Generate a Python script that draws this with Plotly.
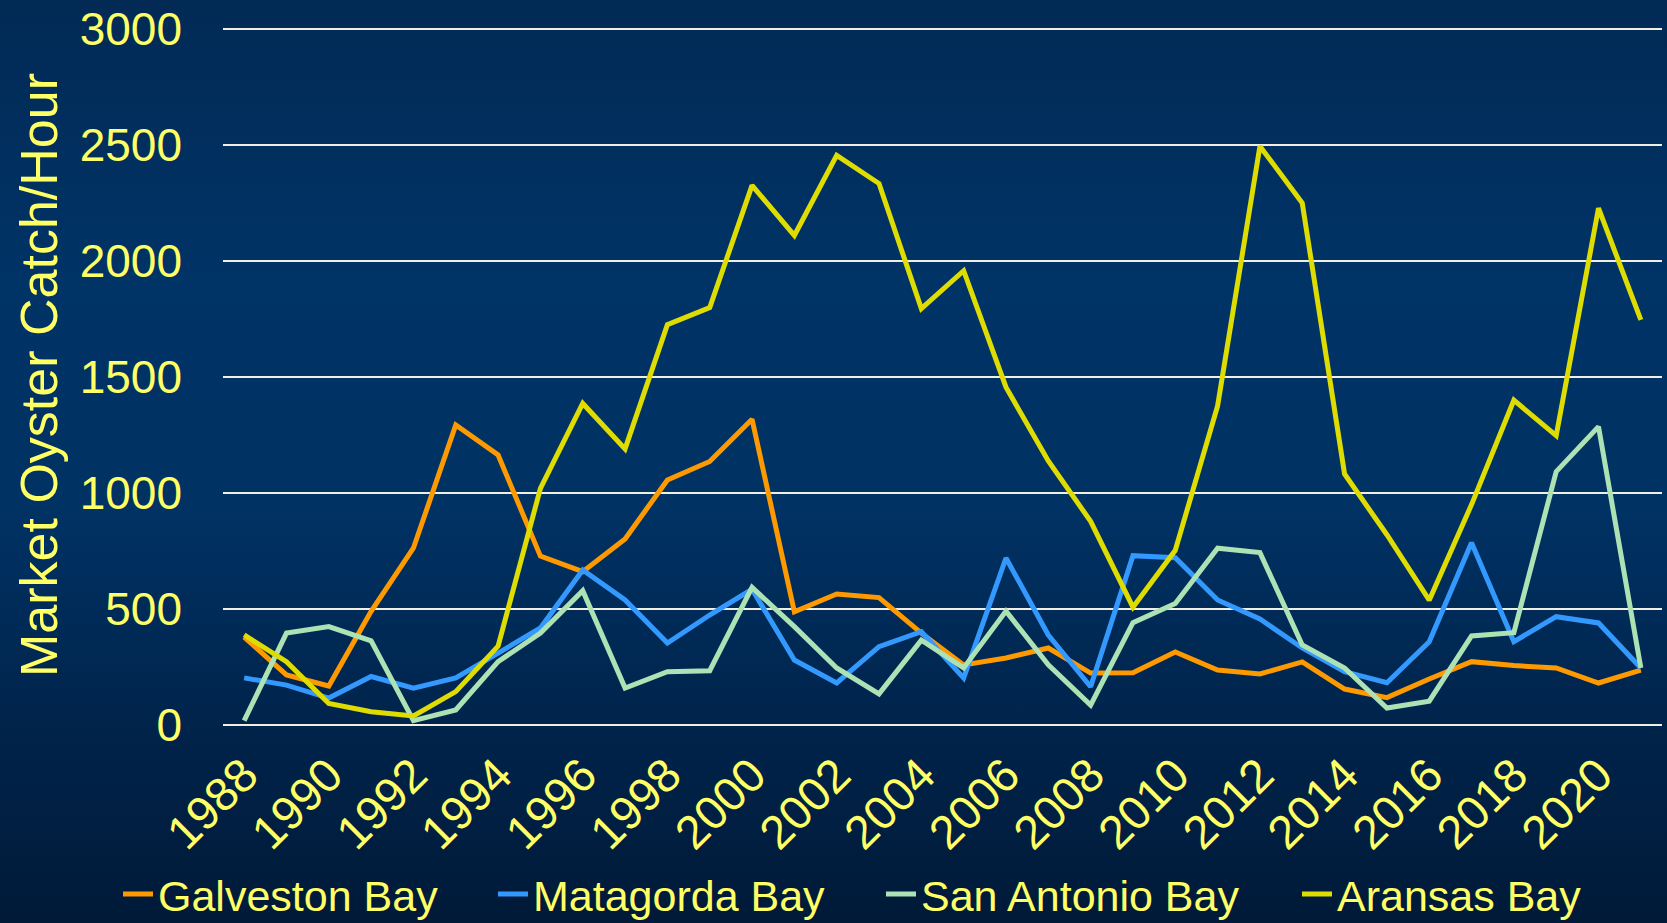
import base64
import plotly.graph_objects as go

years = list(range(1988, 2022))

galveston = [379, 216, 168, 490, 763, 1293, 1164, 728, 661, 802, 1056, 1136, 1318, 488, 565, 549,
             396, 259, 289, 332, 224, 225, 315, 237, 220, 272, 155, 118, 198, 273, 256, 246, 181, 237]
matagorda = [203, 172, 116, 209, 159, 203, 310, 418, 668, 539, 353, 474, 585, 280, 181, 338,
             402, 203, 720, 388, 165, 730, 721, 539, 457, 332, 230, 182, 359, 786, 359, 467, 440, 246]
san_antonio = [19, 396, 424, 363, 19, 65, 273, 396, 579, 159, 230, 234, 593, 424, 246, 134,
               366, 246, 491, 259, 86, 441, 524, 762, 743, 345, 246, 73, 103, 384, 398, 1092, 1286, 246]
aransas = [388, 273, 93, 57, 39, 144, 340, 1020, 1386, 1190, 1726, 1799, 2326, 2110, 2455, 2334,
           1795, 1958, 1456, 1138, 878, 508, 753, 1375, 2495, 2250, 1082, 820, 538, 950, 1400, 1247, 2228, 1746]

series_names = ["Galveston Bay", "Matagorda Bay", "San Antonio Bay", "Aransas Bay"]
series_values = [galveston, matagorda, san_antonio, aransas]
series_colors = ["#FF9900", "#3399FF", "#ADE2B4", "#DEDC00"]

tick_years = list(range(1988, 2021, 2))
tick_labels = [str(y) for y in tick_years]
y_ticks = [0, 500, 1000, 1500, 2000, 2500, 3000]

TEXT = "#FFFF66"
FONT = "Liberation Sans, Arial, sans-serif"

W, H = 1667, 923
ML, MR, MT, MB = 223, 5, 25, 198
PW, PH = W - ML - MR, H - MT - MB

svg = """<svg xmlns='http://www.w3.org/2000/svg' width='1667' height='923' preserveAspectRatio='none'>
<defs><linearGradient id='g' x1='0' y1='0' x2='0' y2='1'>
<stop offset='0' stop-color='#022a55'/>
<stop offset='0.3' stop-color='#003366'/>
<stop offset='0.55' stop-color='#003264'/>
<stop offset='0.8' stop-color='#00234a'/>
<stop offset='1' stop-color='#001a38'/>
</linearGradient></defs>
<rect width='1667' height='923' fill='url(#g)'/></svg>"""
bg_uri = "data:image/svg+xml;base64," + base64.b64encode(svg.encode()).decode()

legend_ids = ["legend", "legend2", "legend3", "legend4"]
legend_text_px = [160, 535, 923, 1339]

fig = go.Figure()
for name, vals, col, lid in zip(series_names, series_values, series_colors, legend_ids):
    fig.add_trace(go.Scatter(
        x=[str(y) for y in years], y=vals, name=name, mode="lines",
        line=dict(color=col, width=5), legend=lid,
    ))

legend_layout = {}
for lid, tx in zip(legend_ids, legend_text_px):
    legend_layout[lid] = dict(
        orientation="h", xref="container", yref="container",
        x=(tx - 42) / W, xanchor="left",
        y=(H - 894) / H, yanchor="middle",
        font=dict(size=43, color=TEXT, family=FONT), bgcolor="rgba(0,0,0,0)",
        itemwidth=30,
    )

fig.update_layout(
    width=W, height=H,
    paper_bgcolor="#001a38", plot_bgcolor="rgba(0,0,0,0)",
    margin=dict(l=ML, r=MR, t=MT, b=MB, autoexpand=False),
    font=dict(family=FONT, color=TEXT, size=44),
    images=[dict(source=bg_uri, xref="paper", yref="paper", x=-ML / PW, y=1 + MT / PH,
                 sizex=W / PW, sizey=H / PH, sizing="stretch", layer="below",
                 xanchor="left", yanchor="top")],
    showlegend=True,
    **legend_layout,
)
fig.update_xaxes(
    type="category", categoryorder="array", categoryarray=[str(y) for y in years],
    range=[-0.5, len(years) - 0.5], automargin=False,
    tickmode="array", tickvals=[str(y) for y in tick_years], ticktext=tick_labels,
    tickangle=-45, tickfont=dict(size=47, color=TEXT, family=FONT),
    showgrid=False, zeroline=False, showline=False, ticks="", ticklabelstandoff=12,
)
fig.update_yaxes(
    range=[0, 3000 * PH / (PH - 4)], automargin=False, tickmode="array", tickvals=y_ticks,
    ticktext=[str(v) for v in y_ticks],
    tickfont=dict(size=46, color=TEXT, family=FONT),
    showgrid=True, gridcolor="#EFEFE2", gridwidth=2,
    zeroline=True, zerolinecolor="#EFEFE2", zerolinewidth=2, showline=False,
    ticks="", ticklabelstandoff=40,
    title=dict(text="Market Oyster Catch/Hour", font=dict(size=52, color=TEXT, family=FONT), standoff=5),
)

fig.write_html("out.html", config={"displayModeBar": False},
               post_script="document.body.style.margin='0';document.body.style.overflow='hidden';")
